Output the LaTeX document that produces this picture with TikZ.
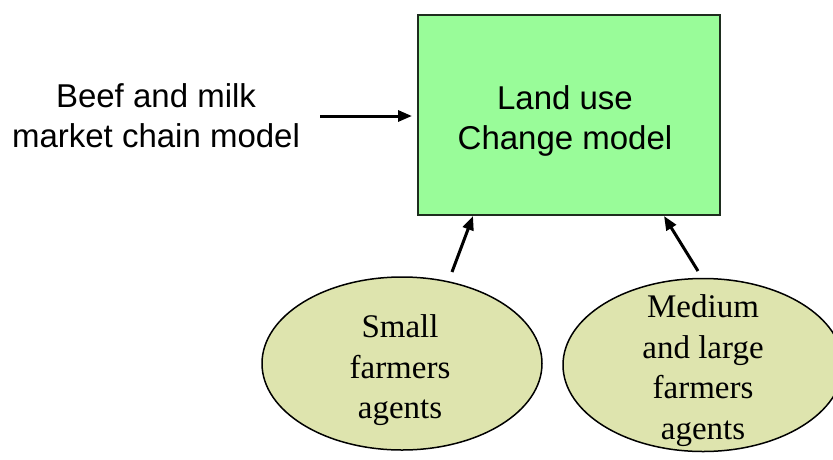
\documentclass[tikz,border=0pt]{standalone}
\usepackage{fontspec}
\setmainfont{Liberation Serif}
\setsansfont{Liberation Sans}
\usetikzlibrary{arrows.meta,shapes.geometric}
\definecolor{boxgreen}{RGB}{153,252,153}
\definecolor{boxline}{RGB}{30,45,30}
\definecolor{agentfill}{RGB}{222,228,174}
\tikzset{
  modelbox/.style={draw=boxline, line width=2pt, fill=boxgreen, minimum width=302pt, minimum height=200pt, inner sep=0pt},
  agent/.style={ellipse, draw=black, line width=1.5pt, fill=agentfill, minimum width=280pt, minimum height=173pt, inner sep=0pt},
  sanstext/.style={font=\sffamily\fontsize{33}{40}\selectfont, align=center, inner sep=0pt, anchor=north},
  seriftext/.style={font=\rmfamily\fontsize{33}{40.5}\selectfont, align=center, inner sep=0pt, anchor=north},
  flow/.style={line width=3pt, -{Triangle[length=14pt,width=11pt]}}
}
\begin{document}
\begin{tikzpicture}[x=1pt,y=-1pt]
\useasboundingbox (0,0) rectangle (833,459);
\node[modelbox] (box) at (568.5,115) {};
\node[sanstext] (boxtext) at (565,85) {Land use\\Change model};
\node[sanstext] (beef) at (156,83) {Beef and milk\\market chain model};
\node[agent] (small) at (402,363.5) {};
\node[agent] (medium) at (703,365) {};
\node[seriftext] (smalltext) at (400,314.5) {Small\\farmers\\agents};
\node[seriftext] (mediumtext) at (703,294.5) {Medium\\and large\\farmers\\agents};
\coordinate (beefend) at (320,116);
\coordinate (boxleft) at (412,116);
\coordinate (smalltop) at (452,272);
\coordinate (boxbotl) at (473,216);
\coordinate (mediumtop) at (698,271);
\coordinate (boxbotr) at (664,216);
\draw[flow] (beefend) -- (boxleft);
\draw[flow] (smalltop) -- (boxbotl);
\draw[flow] (mediumtop) -- (boxbotr);
\end{tikzpicture}
\end{document}
